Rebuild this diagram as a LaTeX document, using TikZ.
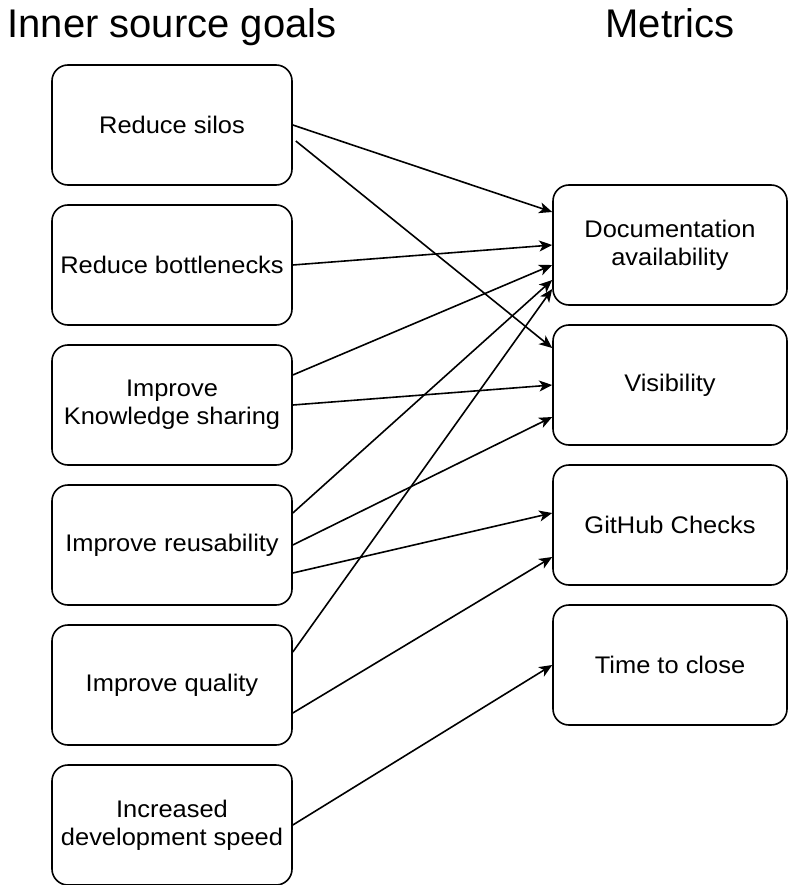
\documentclass[tikz,border=0pt]{standalone}
\usepackage{fontspec}
\setmainfont{Liberation Sans}
\newfontfamily\boxfont{Liberation Sans}[FakeStretch=1.06]
\usetikzlibrary{calc,arrows.meta}
\begin{document}
\begin{tikzpicture}[x=1pt,y=-1pt,
  goalbox/.style={draw=black,line width=1.6pt,rounded corners=16pt,minimum width=240pt,minimum height=120pt,inner sep=0pt,align=center,font=\boxfont\fontsize{24}{28}\selectfont},
  metricbox/.style={goalbox,minimum width=234pt},
  titletext/.style={font=\fontsize{40}{48}\selectfont,anchor=base,inner sep=0pt},
  arr/.style={line width=1.6pt,-{Stealth[length=13pt,width=11pt,inset=3.5pt]}}]
\useasboundingbox (0,0) rectangle (788,885);
\node[titletext] (t1) at (172,38) {Inner source goals};
\node[titletext] (t2) at (670,38) {Metrics};
\node[goalbox] (g1) at (172,125) {Reduce silos};
\node[goalbox] (g2) at (172,265) {Reduce bottlenecks};
\node[goalbox] (g3) at (172,405) {Improve\\Knowledge sharing};
\node[goalbox] (g4) at (172,545) {Improve reusability};
\node[goalbox] (g5) at (172,685) {Improve quality};
\node[goalbox] (g6) at (172,825) {Increased\\development speed};
\node[metricbox] (m1) at (670,245) {Documentation\\availability};
\node[metricbox] (m2) at (670,385) {Visibility};
\node[metricbox] (m3) at (670,525) {GitHub Checks};
\node[metricbox] (m4) at (670,665) {Time to close};
\draw[arr] (g1.east) -- ($(m1.west)+(0,-33)$);
\draw[arr] ($(g1.east)+(3,16)$) -- ($(m2.west)+(0,-37)$);
\draw[arr] (g2.east) -- (m1.west);
\draw[arr] ($(g3.east)+(0,-30)$) -- ($(m1.west)+(0,20)$);
\draw[arr] (g3.east) -- (m2.west);
\draw[arr] ($(g4.east)+(0,-32)$) -- ($(m1.west)+(0,35)$);
\draw[arr] (g4.east) -- ($(m2.west)+(0,32)$);
\draw[arr] ($(g4.east)+(0,28)$) -- ($(m3.west)+(0,-12)$);
\draw[arr] ($(g5.east)+(0,-33)$) -- ($(m1.west)+(0,44)$);
\draw[arr] ($(g5.east)+(0,28)$) -- ($(m3.west)+(0,32)$);
\draw[arr] (g6.east) -- (m4.west);
\end{tikzpicture}
\end{document}
